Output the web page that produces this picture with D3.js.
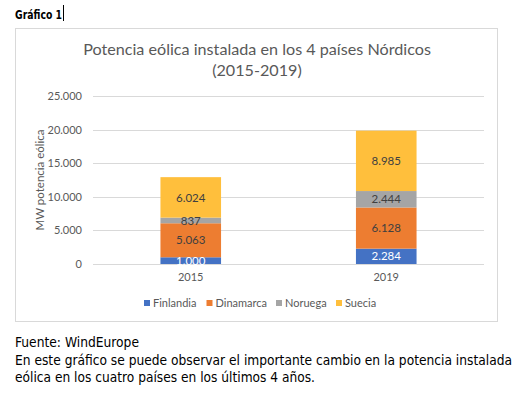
<!DOCTYPE html>
<html><head><meta charset="utf-8">
<script src="https://cdn.jsdelivr.net/npm/d3@7"></script>
<style>body{margin:0;background:#fff}svg{display:block}</style>
</head><body>
<svg id="c" width="525" height="398"></svg>
<script>
const years = ["2015", "2019"];
const series = ["Finlandia", "Dinamarca", "Noruega", "Suecia"];
const finlandia = [1000, 2284];
const dinamarca = [5063, 6128];
const noruega = [837, 2444];
const suecia = [6024, 8985];
const yTicks = [0, 5000, 10000, 15000, 20000, 25000];
const colors = ["#4472C4", "#ED7D31", "#A5A5A5", "#FFBF3C"];
const labelColors = ["#FFFFFF", "#404040", "#404040", "#404040"];

const values = [finlandia, dinamarca, noruega, suecia];
const rows = years.map((y, i) => {
  const r = {year: y};
  series.forEach((s, k) => r[s] = values[k][i]);
  return r;
});

const loc = d3.formatLocale({decimal: ",", thousands: ".", grouping: [3], currency: ["", "€"]});
const fmt = loc.format(",d");

const svg = d3.select("#c");
const chartFont = "Lato, 'Open Sans', sans-serif";
const grey = "#595959";

// Outside texts
svg.append("text").attr("x", 15).attr("y", 18.5)
  .attr("font-family", "'DejaVu Sans Condensed', 'DejaVu Sans', sans-serif")
  .attr("font-weight", "bold").attr("font-size", 13).attr("fill", "#000")
  .attr("textLength", 47).attr("lengthAdjust", "spacingAndGlyphs")
  .text("Gráfico 1");
svg.append("line").attr("x1", 63.5).attr("x2", 63.5).attr("y1", 5).attr("y2", 21)
  .attr("stroke", "#000").attr("stroke-width", 1);

// Chart border
svg.append("rect").attr("x", 15.5).attr("y", 28.5).attr("width", 482).attr("height", 293)
  .attr("fill", "#fff").attr("stroke", "#D9D9D9").attr("stroke-width", 1);

const x = d3.scaleBand().domain(years).range([93, 484]).paddingInner(0.69).paddingOuter(0.345);
const y = d3.scaleLinear().domain([0, 25000]).range([264, 96]);

// gridlines
svg.append("g").selectAll("line").data(yTicks).join("line")
  .attr("x1", 93).attr("x2", 484)
  .attr("y1", d => Math.round(y(d)) + 0.5).attr("y2", d => Math.round(y(d)) + 0.5)
  .attr("stroke", "#D9D9D9").attr("stroke-width", 1);

// y axis labels
const yAxis = svg.append("g").attr("transform", "translate(82,0)")
  .call(d3.axisLeft(y).tickValues(yTicks).tickFormat(fmt).tickSize(0).tickPadding(0));
yAxis.select(".domain").remove();
yAxis.selectAll("text").attr("font-family", chartFont).attr("font-size", 11).attr("fill", grey);

// x axis labels
const xAxis = svg.append("g").attr("transform", "translate(0,264)")
  .call(d3.axisBottom(x).tickSize(0).tickPadding(9));
xAxis.select(".domain").remove();
xAxis.selectAll("text").attr("font-family", chartFont).attr("font-size", 11).attr("fill", grey);

// bars
const stacked = d3.stack().keys(series)(rows);
const g = svg.append("g");
stacked.forEach((layer, k) => {
  g.append("g").selectAll("rect").data(layer).join("rect")
    .attr("x", d => x(d.data.year))
    .attr("width", x.bandwidth())
    .attr("y", d => y(d[1]))
    .attr("height", d => y(d[0]) - y(d[1]))
    .attr("fill", colors[k]);
});
stacked.forEach((layer, k) => {
  g.append("g").selectAll("text").data(layer).join("text")
    .attr("x", d => x(d.data.year) + x.bandwidth() / 2)
    .attr("y", d => (y(d[0]) + y(d[1])) / 2)
    .attr("dy", "0.36em")
    .attr("text-anchor", "middle")
    .attr("font-family", chartFont).attr("font-size", 11.5)
    .attr("fill", labelColors[k])
    .text(d => fmt(d[1] - d[0]));
});

// y axis title
svg.append("text").attr("transform", "translate(44,180) rotate(-90)")
  .attr("text-anchor", "middle").attr("font-family", chartFont).attr("font-size", 11.5)
  .attr("fill", grey).text("MW potencia eólica");

// title
const t1 = svg.append("text").attr("x", 257).attr("y", 55).attr("text-anchor", "middle")
  .attr("font-family", chartFont).attr("font-size", 18).attr("fill", grey)
  .text("Potencia eólica instalada en los 4 países Nórdicos");
const w1 = t1.node().getComputedTextLength();
if (w1 > 0) t1.attr("font-size", 18 * 348 / w1);
svg.append("text").attr("x", 257).attr("y", 76).attr("text-anchor", "middle")
  .attr("font-family", chartFont).attr("font-size", 18 * 348 / (w1 || 348)).attr("fill", grey)
  .text("(2015-2019)");

// legend
const legendX = [144, 206.5, 276, 336];
const lg = svg.append("g");
series.forEach((s, k) => {
  lg.append("rect").attr("x", legendX[k]).attr("y", 300).attr("width", 6).attr("height", 6).attr("fill", colors[k]);
  lg.append("text").attr("x", legendX[k] + 9).attr("y", 303).attr("dy", "0.35em")
    .attr("font-family", chartFont).attr("font-size", 11).attr("fill", grey).text(s);
});

// footer texts
const footFont = "'DejaVu Sans Condensed', 'DejaVu Sans', sans-serif";
const foot = [
  {t: "Fuente: WindEurope", y: 347, w: 124},
  {t: "En este gráfico se puede observar el importante cambio en la potencia instalada", y: 364.5, w: 497},
  {t: "eólica en los cuatro países en los últimos 4 años.", y: 382, w: 300}
];
foot.forEach(f => {
  svg.append("text").attr("x", 15).attr("y", f.y)
    .attr("font-family", footFont).attr("font-size", 13.5).attr("fill", "#000")
    .attr("textLength", f.w).attr("lengthAdjust", "spacingAndGlyphs").text(f.t);
});
</script>
</body></html>
